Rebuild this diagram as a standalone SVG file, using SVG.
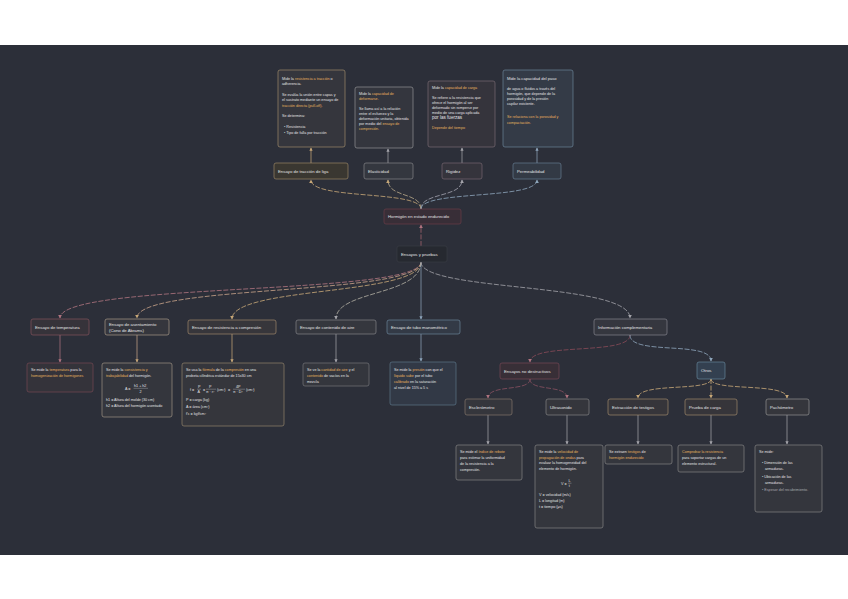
<svg xmlns="http://www.w3.org/2000/svg" width="848" height="599" viewBox="0 0 848 599">
<defs>
<style>
text{font-family:"Liberation Sans",Arial,sans-serif;fill:#e2e2e4}
.l{font-size:4.3px}
.d{font-size:3.7px}
.g{fill:#e6b25e}
.gr{fill:#a8a8ae}
.nb{stroke-width:0.8;stroke-opacity:0.8}
.e{fill:none;stroke-width:0.9;stroke-dasharray:5 1.6;stroke-opacity:0.9}
.v{fill:none;stroke-width:0.8;stroke-opacity:0.9}
</style>
<marker id="mr" viewBox="0 0 6 6" refX="5" refY="3" markerWidth="4" markerHeight="4" orient="auto"><path d="M0,0L6,3L0,6z" fill="#b07480"/></marker>
<marker id="mt" viewBox="0 0 6 6" refX="5" refY="3" markerWidth="4" markerHeight="4" orient="auto"><path d="M0,0L6,3L0,6z" fill="#c8a878"/></marker>
<marker id="mg" viewBox="0 0 6 6" refX="5" refY="3" markerWidth="4" markerHeight="4" orient="auto"><path d="M0,0L6,3L0,6z" fill="#a4a4aa"/></marker>
<marker id="mb" viewBox="0 0 6 6" refX="5" refY="3" markerWidth="4" markerHeight="4" orient="auto"><path d="M0,0L6,3L0,6z" fill="#8ea6bc"/></marker>
</defs>
<rect x="0" y="0" width="848" height="599" fill="#ffffff"/>
<rect x="0" y="45" width="848" height="510" fill="#2c2f39"/>

<g id="connectors">
<path class="e" d="M421,246 L421,225" stroke="#a0606c" marker-end="url(#mr)"/>
<path class="e" d="M421,209 C421,190 311,200 311,180" stroke="#c8a878" marker-end="url(#mt)"/>
<path class="e" d="M421,209 C421,192 388,198 388,180" stroke="#b8a88a" marker-end="url(#mt)"/>
<path class="e" d="M421,209 C421,192 462,198 462,180" stroke="#a4a4b0" marker-end="url(#mg)"/>
<path class="e" d="M421,209 C421,190 537,200 537,180" stroke="#8ea6bc" marker-end="url(#mb)"/>
<path class="v" d="M311,163 L311,148" stroke="#c8a878" marker-end="url(#mt)"/>
<path class="v" d="M388,163 L388,149" stroke="#a4a4aa" marker-end="url(#mg)"/>
<path class="v" d="M462,163 L462,148" stroke="#a4a4aa" marker-end="url(#mg)"/>
<path class="v" d="M537,163 L537,148" stroke="#8ea6bc" marker-end="url(#mb)"/>
<path class="e" d="M421,262 C421,296 60,282 60,318" stroke="#b07480" marker-end="url(#mr)"/>
<path class="e" d="M421,262 C421,296 137,284 137,318" stroke="#c8a48a" marker-end="url(#mt)"/>
<path class="e" d="M421,262 C421,296 232,286 232,319" stroke="#c8a878" marker-end="url(#mt)"/>
<path class="e" d="M421,262 C421,296 336,290 336,319" stroke="#b4b0a4" marker-end="url(#mg)"/>
<path class="v" d="M421,262 L421,319" stroke="#8ea6bc" marker-end="url(#mb)"/>
<path class="e" d="M421,262 C421,292 630,282 630,318" stroke="#a4a4aa" marker-end="url(#mg)"/>
<path class="v" d="M60,335 L60,362" stroke="#b07480" marker-end="url(#mr)"/>
<path class="v" d="M137,335 L137,362" stroke="#c8a48a" marker-end="url(#mt)"/>
<path class="v" d="M232,334 L232,362" stroke="#c8a878" marker-end="url(#mt)"/>
<path class="v" d="M336,334 L336,362" stroke="#a4a4aa" marker-end="url(#mg)"/>
<path class="v" d="M421,334 L421,361" stroke="#8ea6bc" marker-end="url(#mb)"/>
<path class="e" d="M630,335 C630,356 530,342 530,362" stroke="#8a4a58" marker-end="url(#mr)"/>
<path class="e" d="M630,335 C630,356 711,340 711,361" stroke="#8ea6bc" marker-end="url(#mb)"/>
<path class="e" d="M530,379 C530,392 488,384 488,398" stroke="#8a5060" marker-end="url(#mr)"/>
<path class="e" d="M530,379 C530,392 567,384 567,398" stroke="#8a5060" marker-end="url(#mr)"/>
<path class="e" d="M711,379 C711,392 638,382 638,398" stroke="#c8a878" marker-end="url(#mt)"/>
<path class="e" d="M711,379 L711,398" stroke="#c8a878" marker-end="url(#mt)"/>
<path class="e" d="M711,379 C711,392 787,382 787,398" stroke="#c8a878" marker-end="url(#mt)"/>
<path class="v" d="M488,415 L488,444" stroke="#a4a4aa" marker-end="url(#mg)"/>
<path class="v" d="M567,415 L567,444" stroke="#a4a4aa" marker-end="url(#mg)"/>
<path class="v" d="M638,415 L638,444" stroke="#a4a4aa" marker-end="url(#mg)"/>
<path class="v" d="M711,415 L711,444" stroke="#a4a4aa" marker-end="url(#mg)"/>
<path class="v" d="M787,415 L787,444" stroke="#a4a4aa" marker-end="url(#mg)"/>
</g>

<g id="detA">
<rect class="nb" x="278" y="70" width="67" height="77" rx="2" fill="#35363d" stroke="#a89270"/>
<text class="d" x="282" y="79.5">Mide la <tspan class="g">resistencia a tracción</tspan> o</text>
<text class="d" x="282" y="85">adherencia.</text>
<text class="d" x="282" y="95.5">Se evalúa la unión entre capas y</text>
<text class="d" x="282" y="101">el sustrato mediante un ensayo de</text>
<text class="d" x="282" y="106.5"><tspan class="g">tracción directa (pull-off).</tspan></text>
<text class="d" x="282" y="117">Se determina:</text>
<text class="d" x="284" y="127.5">• Resistencia</text>
<text class="d" x="284" y="133.5">• Tipo de falla por tracción</text>
</g>
<g id="detB">
<rect class="nb" x="355" y="87" width="58" height="61" rx="2" fill="#34363e" stroke="#9a9a9e"/>
<text class="d" x="359" y="94.5">Mide la <tspan class="g">capacidad de</tspan></text>
<text class="d" x="359" y="99.5"><tspan class="g">deformarse.</tspan></text>
<text class="d" x="359" y="110">Se llama así a la relación</text>
<text class="d" x="359" y="115">entre el esfuerzo y la</text>
<text class="d" x="359" y="120">deformación unitaria, obtenida</text>
<text class="d" x="359" y="125">por medio del <tspan class="g">ensayo de</tspan></text>
<text class="d" x="359" y="130"><tspan class="g">compresión.</tspan></text>
</g>
<g id="detC">
<rect class="nb" x="428" y="81" width="67" height="66" rx="2" fill="#35343c" stroke="#7e6e78"/>
<text class="d" x="432" y="89">Mide la <tspan class="g">capacidad de carga</tspan></text>
<text class="d" x="432" y="99">Se refiere a la resistencia que</text>
<text class="d" x="432" y="104">ofrece el hormigón al ser</text>
<text class="d" x="432" y="109">deformado sin romperse por</text>
<text class="d" x="432" y="114">medio de una carga aplicada</text>
<text x="432" y="119" style="font-size:4.6px">por las fuerzas</text>
<text class="d g" x="432" y="129">Depende del tiempo</text>
</g>
<g id="detD">
<rect class="nb" x="503" y="70" width="70" height="77" rx="2" fill="#343b47" stroke="#6f8aa0"/>
<text x="507" y="80" style="font-size:4.1px">Mide la capacidad del paso</text>
<text class="d" x="507" y="90">de agua o fluidos a través del</text>
<text class="d" x="507" y="95">hormigón, que depende de la</text>
<text class="d" x="507" y="100">porosidad y de la presión</text>
<text class="d" x="507" y="105">capilar existente.</text>
<text class="d g" x="507" y="118">Se relaciona con la porosidad y</text>
<text class="d g" x="507" y="124">compactación.</text>
</g>

<g id="labA"><rect class="nb" x="274" y="163" width="74" height="16" rx="2" fill="#3a3731" stroke="#a08a68"/><text class="l" x="278" y="172.5">Ensayo de tracción de liga</text></g>
<g id="labB"><rect class="nb" x="364" y="163" width="49" height="16" rx="2" fill="#34373f" stroke="#8a8a8e"/><text class="l" x="368" y="172.5">Elasticidad</text></g>
<g id="labC"><rect class="nb" x="442" y="163" width="40" height="16" rx="2" fill="#35343c" stroke="#7a6a74"/><text class="l" x="446" y="172.5">Rigidez</text></g>
<g id="labD"><rect class="nb" x="513" y="163" width="48" height="16" rx="2" fill="#333a45" stroke="#6a8298"/><text class="l" x="517" y="172.5">Permeabilidad</text></g>

<g id="central"><rect class="nb" x="384" y="209" width="77" height="15" rx="2" fill="#382e37" stroke="#6e3e4a"/><text class="l" x="388" y="218">Hormigón en estado endurecido</text></g>
<g id="root"><rect class="nb" x="397" y="246" width="50" height="16" rx="2" fill="#262930" stroke="#3a3d46"/><text class="l" x="401" y="255.5">Ensayos y pruebas</text></g>

<g id="n1"><rect class="nb" x="31" y="319" width="58" height="16" rx="2" fill="#36333a" stroke="#8a5560"/><text class="l" x="35" y="328.5">Ensayo de temperatura</text></g>
<g id="n2"><rect class="nb" x="105" y="319" width="64" height="16" rx="2" fill="#35363d" stroke="#b0a090"/><text class="l" x="109" y="325.5">Ensayo de asentamiento</text><text class="l" x="109" y="331.5">(Cono de Abrams)</text></g>
<g id="n3"><rect class="nb" x="188" y="320" width="88" height="14" rx="2" fill="#37363b" stroke="#a89070"/><text class="l" x="192" y="328.5">Ensayo de resistencia a compresión</text></g>
<g id="n4"><rect class="nb" x="296" y="320" width="80" height="14" rx="2" fill="#35373e" stroke="#8a8a90"/><text class="l" x="300" y="328.5">Ensayo de contenido de aire</text></g>
<g id="n5"><rect class="nb" x="387" y="320" width="73" height="14" rx="2" fill="#333a46" stroke="#6f8aa2"/><text class="l" x="391" y="328.5">Ensayo de tubo manométrico</text></g>
<g id="n6"><rect class="nb" x="594" y="319" width="73" height="16" rx="2" fill="#35373f" stroke="#8a8a94"/><text class="l" x="598" y="328.5">Información complementaria</text></g>

<g id="d1"><rect class="nb" x="27" y="363" width="66" height="29" rx="2" fill="#34333a" stroke="#7a4a55"/>
<text class="d" x="31" y="371">Se mide la <tspan class="g">temperatura</tspan> para la</text>
<text class="d g" x="31" y="377">homogenización de hormigones</text></g>
<g id="d2"><rect class="nb" x="102" y="363" width="70" height="54" rx="2" fill="#34363d" stroke="#a89a8a"/>
<text class="d" x="106" y="371">Se mide la <tspan class="g">consistencia y</tspan></text>
<text class="d" x="106" y="377"><tspan class="g">trabajabilidad</tspan> del hormigón.</text>
<text class="d" x="125" y="390">A =</text>
<text class="d" x="134" y="387">h1 + h2</text>
<line x1="133.5" y1="388.3" x2="148" y2="388.3" stroke="#e4e4e6" stroke-width="0.3"/>
<text class="d" x="139.5" y="392.5">2</text>
<text class="d" x="106" y="400.5">h1 = Altura del molde (30 cm)</text>
<text class="d" x="106" y="406.5">h2 = Altura del hormigón asentado</text></g>
<g id="d3"><rect class="nb" x="182" y="363" width="102" height="63" rx="2" fill="#35363c" stroke="#9a8a70"/>
<text class="d" x="186" y="371">Se usa la <tspan class="g">fórmula</tspan> de la <tspan class="g">compresión</tspan> en una</text>
<text class="d" x="186" y="377">probeta cilíndrica estándar de 15x30 cm</text>
<text class="d" x="190" y="391">f = </text>
<text class="d" x="198" y="388">P</text><line x1="197" y1="389.2" x2="201" y2="389.2" stroke="#e4e4e6" stroke-width="0.3"/><text class="d" x="197.5" y="393">A</text>
<text class="d" x="203" y="391">=</text>
<text class="d" x="209" y="388">P</text><line x1="206" y1="389.2" x2="216" y2="389.2" stroke="#e4e4e6" stroke-width="0.3"/><text class="d" x="206" y="393">π · r²</text>
<text class="d" x="217" y="391">(cm²)</text>
<text class="d" x="228" y="391">=</text>
<text class="d" x="236" y="388">4P</text><line x1="233" y1="389.2" x2="245" y2="389.2" stroke="#e4e4e6" stroke-width="0.3"/><text class="d" x="233" y="393">π · D²</text>
<text class="d" x="246" y="391">(cm²)</text>
<text class="d" x="186" y="401">P = carga (kg)</text>
<text class="d" x="186" y="408">A = área (cm²)</text>
<text class="d" x="186" y="415">f'c = kgf/cm²</text></g>
<g id="d4"><rect class="nb" x="303" y="363" width="66" height="23" rx="2" fill="#34363d" stroke="#7a7a80"/>
<text class="d" x="307" y="371">Se ve la <tspan class="g">cantidad de aire</tspan> y el</text>
<text class="d" x="307" y="377"><tspan class="g">contenido</tspan> de vacíos en la</text>
<text class="d" x="307" y="383">mezcla</text></g>
<g id="d5"><rect class="nb" x="390" y="362" width="66" height="43" rx="2" fill="#323946" stroke="#5f7a90"/>
<text class="d" x="394" y="371">Se mide la <tspan class="g">presión</tspan> con que el</text>
<text class="d" x="394" y="377"><tspan class="g">líquido sube</tspan> por el tubo</text>
<text class="d" x="394" y="383"><tspan class="g">calibrado</tspan> en la saturación</text>
<text class="d" x="394" y="389">al nivel de 15% a 5 s</text></g>

<g id="end"><rect class="nb" x="500" y="363" width="59" height="16" rx="2" fill="#382f37" stroke="#7a4a58"/><text class="l" x="504" y="372.5">Ensayos no destructivos</text></g>
<g id="otros"><rect class="nb" x="697" y="362" width="28" height="17" rx="2" fill="#334050" stroke="#6a8aa0"/><text class="l" x="701" y="372">Otros</text></g>
<g id="escl"><rect class="nb" x="465" y="399" width="47" height="16" rx="2" fill="#35363c" stroke="#8a7a70"/><text class="l" x="469" y="408.5">Esclerómetro</text></g>
<g id="ultra"><rect class="nb" x="546" y="399" width="43" height="16" rx="2" fill="#35363c" stroke="#8a8a8a"/><text class="l" x="550" y="408.5">Ultrasonido</text></g>
<g id="extr"><rect class="nb" x="608" y="399" width="60" height="16" rx="2" fill="#36353a" stroke="#a89070"/><text class="l" x="612" y="408.5">Extracción de testigos</text></g>
<g id="prueba"><rect class="nb" x="685" y="399" width="52" height="16" rx="2" fill="#36353a" stroke="#a89070"/><text class="l" x="689" y="408.5">Prueba de carga</text></g>
<g id="pach"><rect class="nb" x="766" y="399" width="43" height="16" rx="2" fill="#35363c" stroke="#9a9a9a"/><text class="l" x="770" y="408.5">Pachómetro</text></g>

<g id="descl"><rect class="nb" x="456" y="445" width="66" height="35" rx="2" fill="#34363d" stroke="#8a8a8a"/>
<text class="d" x="460" y="453">Se mide el <tspan class="g">índice de rebote</tspan></text>
<text class="d" x="460" y="459">para estimar la uniformidad</text>
<text class="d" x="460" y="465">de la resistencia a la</text>
<text class="d" x="460" y="471">compresión.</text></g>
<g id="dultra"><rect class="nb" x="535" y="445" width="68" height="83" rx="2" fill="#34363d" stroke="#8a8a8a"/>
<text class="d" x="539" y="453">Se mide la <tspan class="g">velocidad de</tspan></text>
<text class="d" x="539" y="458.5"><tspan class="g">propagación de ondas</tspan> para</text>
<text class="d" x="539" y="464">evaluar la homogeneidad del</text>
<text class="d" x="539" y="469.5">elemento de hormigón.</text>
<text class="d" x="561" y="485">V =</text>
<text class="d" x="568.5" y="482">L</text><line x1="568" y1="483.2" x2="571.5" y2="483.2" stroke="#e4e4e6" stroke-width="0.3"/><text class="d" x="568.8" y="487">t</text>
<text class="d" x="539" y="496">V = velocidad (m/s)</text>
<text class="d" x="539" y="501.5">L = longitud (m)</text>
<text class="d" x="539" y="507.5">t = tiempo (μs)</text></g>
<g id="dextr"><rect class="nb" x="605" y="445" width="67" height="19" rx="2" fill="#34363d" stroke="#8a8a8a"/>
<text class="d" x="609" y="453">Se extraen <tspan class="g">testigos</tspan> de</text>
<text class="d g" x="609" y="459">hormigón endurecido</text></g>
<g id="dprueba"><rect class="nb" x="678" y="445" width="66" height="27" rx="2" fill="#34363d" stroke="#8a8a8a"/>
<text class="d g" x="682" y="453">Comprobar la resistencia</text>
<text class="d" x="682" y="459">para soportar cargas de un</text>
<text class="d" x="682" y="465">elemento estructural.</text></g>
<g id="dpach"><rect class="nb" x="755" y="445" width="67" height="67" rx="2" fill="#34363d" stroke="#8a8a8a"/>
<text class="d" x="759" y="453">Se mide:</text>
<text class="d" x="762" y="463.5">• Dimensión de las</text>
<text class="d" x="765" y="469.5">armaduras.</text>
<text class="d" x="762" y="477.5">• Ubicación de las</text>
<text class="d" x="765" y="483.5">armaduras.</text>
<text class="d gr" x="762" y="491">• Espesor del recubrimiento.</text></g>
</svg>
